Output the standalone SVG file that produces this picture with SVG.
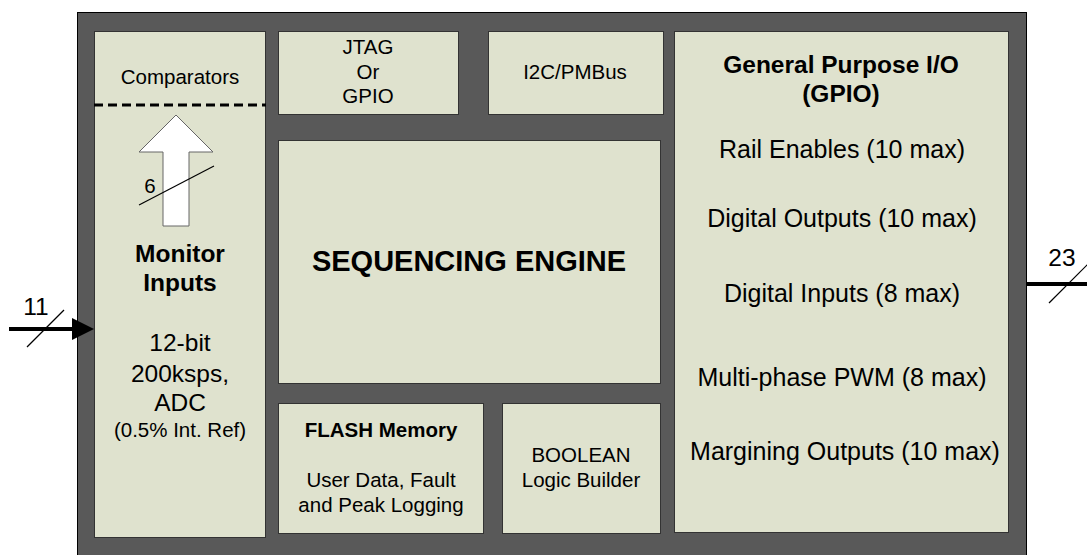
<svg xmlns="http://www.w3.org/2000/svg" width="1087" height="555" viewBox="0 0 1087 555">
<style>
.box{fill:#dfe2ce;stroke:#333;stroke-width:1}
text{font-family:"Liberation Sans",Arial,sans-serif;fill:#000;text-anchor:middle}
.t20{font-size:20.5px}
.t24{font-size:24.5px}
.t25{font-size:25px}
.b{font-weight:bold}
.wire{stroke:#000;stroke-width:4;fill:none}
.slash{stroke:#000;stroke-width:1.2;fill:none}
</style>
<rect width="1087" height="555" fill="#fff"/>
<rect id="chip" x="77.5" y="12.5" width="949" height="560" fill="#595959" stroke="#000" stroke-width="1"/>
<g id="monitor">
<rect class="box" x="94.5" y="31.5" width="171" height="506"/>
<text class="t20" x="180" y="84">Comparators</text>
<line x1="94" y1="105" x2="266" y2="105" stroke="#000" stroke-width="3" stroke-dasharray="9,5"/>
<polygon points="176,115 213,152 189,152 189,226 163,226 163,152 139,152" fill="#fff" stroke="#666" stroke-width="1"/>
<line class="slash" x1="139" y1="205" x2="214" y2="166"/>
<text class="t20" x="150" y="193">6</text>
<text class="t24 b" x="180" y="262">Monitor</text>
<text class="t24 b" x="180" y="291">Inputs</text>
<text class="t24" x="180" y="351">12-bit</text>
<text class="t24" x="180" y="382">200ksps,</text>
<text class="t24" x="180" y="411">ADC</text>
<text class="t20" x="180" y="437">(0.5% Int. Ref)</text>
</g>
<g id="jtag">
<rect class="box" x="278.5" y="31.5" width="180" height="83"/>
<text class="t20" x="368" y="54">JTAG</text>
<text class="t20" x="368" y="79">Or</text>
<text class="t20" x="368" y="103">GPIO</text>
</g>
<g id="i2c">
<rect class="box" x="488.5" y="31.5" width="175" height="83"/>
<text class="t20" x="575" y="79">I2C/PMBus</text>
</g>
<g id="engine">
<rect class="box" x="278.5" y="140.5" width="382" height="243"/>
<text class="b" x="469" y="271" style="font-size:29px">SEQUENCING ENGINE</text>
</g>
<g id="flash">
<rect class="box" x="278.5" y="403.5" width="205" height="130"/>
<text class="t20 b" x="381" y="437">FLASH Memory</text>
<text class="t20" x="381" y="487">User Data, Fault</text>
<text class="t20" x="381" y="512">and Peak Logging</text>
</g>
<g id="boolean">
<rect class="box" x="502.5" y="403.5" width="158" height="130"/>
<text class="t20" x="581" y="462">BOOLEAN</text>
<text class="t20" x="581" y="487">Logic Builder</text>
</g>
<g id="gpio">
<rect class="box" x="674.5" y="31.5" width="334" height="501"/>
<text class="t24 b" x="841" y="73">General Purpose I/O</text>
<text class="t24 b" x="841" y="102">(GPIO)</text>
<text class="t25" x="842" y="158">Rail Enables (10 max)</text>
<text class="t25" x="842" y="227">Digital Outputs (10 max)</text>
<text class="t25" x="842" y="302">Digital Inputs (8 max)</text>
<text class="t25" x="842" y="386">Multi-phase PWM (8 max)</text>
<text class="t25" x="845" y="460">Margining Outputs (10 max)</text>
</g>
<g id="connectors">
<line class="wire" x1="9" y1="329" x2="74" y2="329"/>
<polygon points="94,329 72,318 72,340" fill="#000"/>
<line class="slash" x1="27" y1="347" x2="64" y2="310"/>
<text class="t24" x="36" y="315">11</text>
<line class="wire" x1="1027" y1="284" x2="1087" y2="284"/>
<line class="slash" x1="1049" y1="303" x2="1090" y2="262"/>
<text class="t24" x="1062" y="266">23</text>
</g>
</svg>
